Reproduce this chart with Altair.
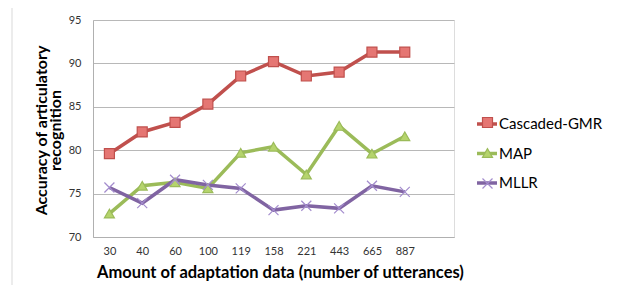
import altair as alt
import pandas as pd

categories = ["30", "40", "60", "100", "119", "158", "221", "443", "665", "887"]
series_names = ["Cascaded-GMR", "MAP", "MLLR"]
cascaded_gmr = [79.6, 82.1, 83.2, 85.3, 88.55, 90.2, 88.55, 89.0, 91.3, 91.3]
map_vals = [72.7, 75.9, 76.3, 75.6, 79.7, 80.4, 77.2, 82.8, 79.6, 81.6]
mllr_vals = [75.7, 73.9, 76.6, 76.0, 75.6, 73.1, 73.6, 73.3, 75.9, 75.2]

line_colors = ["#c0504d", "#9bbb59", "#8064a2"]
marker_fill = ["#e57673", "#b5d46c", "#ffffff"]
marker_stroke = ["#c0504d", "#9bbb59", "#a38ccd"]
marker_shapes = ["square", "triangle-up", "M-1,-1L1,1M-1,1L1,-1"]

rows = []
for name, vals in zip(series_names, [cascaded_gmr, map_vals, mllr_vals]):
    for c, v in zip(categories, vals):
        rows.append({"cat": c, "acc": v, "series": name, "series2": name})
df = pd.DataFrame(rows)

FONT = "Lato"
x_domain = categories + [" "]

x_enc = alt.X(
    "cat:N",
    scale=alt.Scale(domain=x_domain),
    sort=x_domain,
    axis=alt.Axis(
        title="Amount of adaptation data (number of utterances)",
        titleFont=FONT, titleFontSize=16.5, titleFontWeight="bold", titleColor="#000000",
        titleX=187, titleY=27, titleAnchor="middle", titleAlign="center", titleBaseline="top",
        labelFont=FONT, labelFontSize=11, labelColor="#333333", labelAngle=0,
        labelPadding=8, ticks=False, domainColor="#b0b0b0", grid=False,
    ),
)
y_enc = alt.Y(
    "acc:Q",
    scale=alt.Scale(domain=[70, 95], nice=False, zero=False),
    axis=alt.Axis(
        title=["Accuracy of articulatory", "recognition"],
        titleFont=FONT, titleFontSize=16, titleFontWeight="bold", titleColor="#000000",
        titleAngle=-90, titleX=-60, titleY=110, titleAlign="center", titleBaseline="top",
        titleLineHeight=14,
        values=[70, 75, 80, 85, 90, 95],
        labelFont=FONT, labelFontSize=11, labelColor="#333333", labelPadding=12,
        ticks=False, domainColor="#b0b0b0", gridColor="#b8b8b8", gridWidth=1,
    ),
)

border_v = alt.Chart(alt.Data(values=[{}])).mark_rule(color="#d9d9d9", strokeWidth=1).encode(
    x=alt.value(-81), y=alt.value(-14), y2=alt.value(300)
)
border_h = alt.Chart(alt.Data(values=[{}])).mark_rule(color="#d9d9d9", strokeWidth=1).encode(
    x=alt.value(-81), x2=alt.value(600), y=alt.value(-14)
)

lines = alt.Chart(df).mark_line(strokeWidth=3.5).encode(
    x=x_enc,
    y=y_enc,
    color=alt.Color(
        "series:N",
        scale=alt.Scale(domain=series_names, range=line_colors),
        legend=alt.Legend(
            title=None, orient="none", legendX=382, legendY=92,
            symbolType="stroke", symbolSize=400, symbolStrokeWidth=3.5,
            labelFont=FONT, labelFontSize=15, labelColor="#000000",
            labelOffset=0, rowPadding=9.5, padding=0,
        ),
    ),
)

points = alt.Chart(df).mark_point(filled=False, size=100, strokeWidth=1.2, opacity=1).encode(
    x=x_enc,
    y=y_enc,
    shape=alt.Shape(
        "series2:N",
        scale=alt.Scale(domain=series_names, range=marker_shapes),
        legend=alt.Legend(
            title=None, orient="none", legendX=387, legendY=95,
            symbolSize=100, symbolStrokeWidth=1.2,
            labelFont=FONT, labelFontSize=15, labelExpr="''",
            labelOffset=1, rowPadding=14.5, padding=0,
        ),
    ),
    fill=alt.Fill("series2:N", scale=alt.Scale(domain=series_names, range=marker_fill), legend=None),
    stroke=alt.Stroke("series2:N", scale=alt.Scale(domain=series_names, range=marker_stroke), legend=None),
)

chart = alt.layer(border_v, border_h, lines, points).resolve_scale(
    color="independent", shape="independent", fill="independent", stroke="independent"
).properties(
    width=361, height=217,
    autosize=alt.AutoSizeParams(type="none"),
    padding={"left": 85, "top": 12, "right": 155, "bottom": 48},
).configure_view(stroke=None).configure(background="#ffffff")

chart.save("out.html", embed_options={"renderer": "svg", "actions": False})
